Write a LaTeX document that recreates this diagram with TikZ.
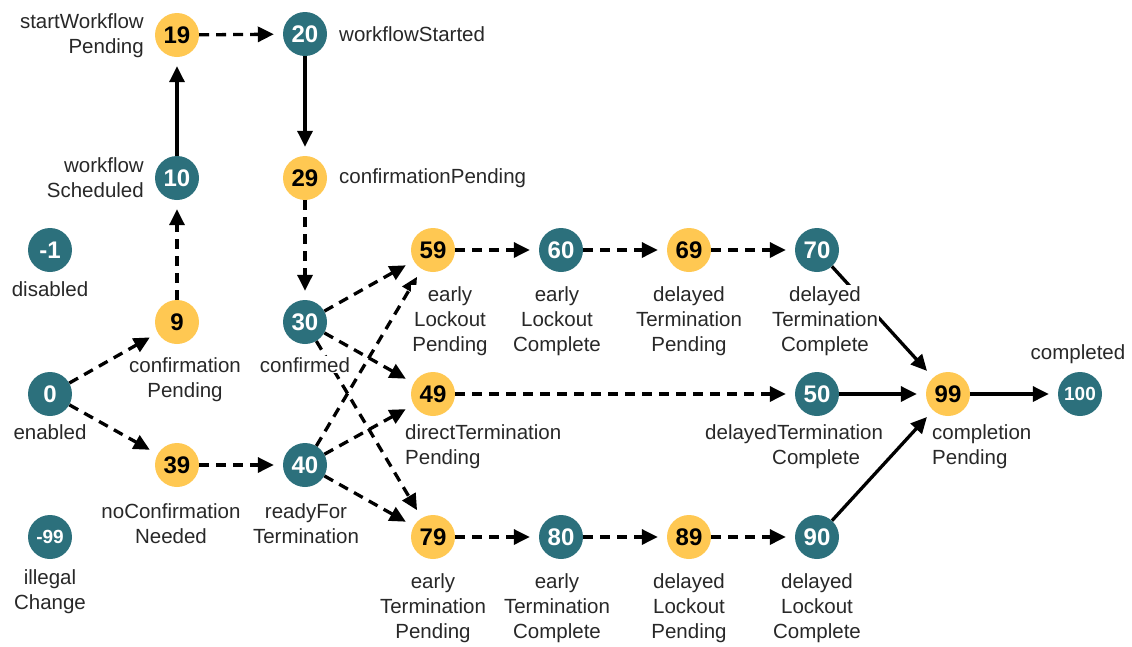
\documentclass[tikz,border=0pt]{standalone}
\usepackage{fontspec}
\setmainfont{Liberation Sans}
\usetikzlibrary{arrows.meta}
\definecolor{stteal}{RGB}{44,112,124}
\definecolor{styellow}{RGB}{255,200,82}
\definecolor{labelgray}{RGB}{40,40,40}

\begin{document}
\begin{tikzpicture}[x=1pt,y=-1pt,
  state/.style={circle, minimum size=44pt, inner sep=0pt,
    font=\fontsize{24}{24}\selectfont\bfseries},
  pend/.style={state, fill=styellow, text=black},
  done/.style={state, fill=stteal, text=white},
  small/.style={font=\fontsize{19}{19}\selectfont\bfseries},
  lbl/.style={fill=white, inner sep=1pt, text=labelgray, align=center,
    font=\fontsize{20.5}{25}\selectfont},
  flow/.style={line width=3.3pt, -{Triangle[length=16pt,width=15pt]}, shorten >=9pt},
  opt/.style={flow, dash pattern=on 10pt off 7pt},
]
\useasboundingbox (0,0) rectangle (1132,646);

% states
\node[pend] (s19) at (177,35) {19};
\node[done] (s20) at (305,34) {20};
\node[done] (s10) at (177,178) {10};
\node[pend] (s29) at (305,178) {29};
\node[done] (sm1) at (50,250) {-1};
\node[pend] (s9) at (177,322) {9};
\node[done] (s30) at (305,322) {30};
\node[pend] (s59) at (433,250) {59};
\node[done] (s60) at (561,250) {60};
\node[pend] (s69) at (689,250) {69};
\node[done] (s70) at (817,250) {70};
\node[done] (s0) at (50,394) {0};
\node[pend] (s49) at (433,394) {49};
\node[done] (s50) at (817,394) {50};
\node[pend] (s99) at (948,394) {99};
\node[done,small] (s100) at (1080,394) {100};
\node[pend] (s39) at (177,465) {39};
\node[done] (s40) at (305,465) {40};
\node[done,small] (sm99) at (50,537) {-99};
\node[pend] (s79) at (433,537) {79};
\node[done] (s80) at (561,537) {80};
\node[pend] (s89) at (689,537) {89};
\node[done] (s90) at (817,537) {90};

% transitions
\draw[flow] (s10) -- (s19);
\draw[opt] (s9) -- (s10);
\draw[opt] (s19) -- (s20);
\draw[flow] (s20) -- (s29);
\draw[opt] (s29) -- (s30);
\draw[opt] (s0) -- (s9);
\draw[opt] (s0) -- (s39);
\draw[opt] (s39) -- (s40);
\draw[opt] (s30) -- (s59);
\draw[opt] (s30) -- (s49);
\draw[opt] (s30) -- (s79);
\draw[opt] (s40) -- (s59);
\draw[opt] (s40) -- (s49);
\draw[opt] (s40) -- (s79);
\draw[opt] (s59) -- (s60);
\draw[opt] (s60) -- (s69);
\draw[opt] (s69) -- (s70);
\draw[opt] (s79) -- (s80);
\draw[opt] (s80) -- (s89);
\draw[opt] (s89) -- (s90);
\draw[opt] (s49) -- (s50);
\draw[flow] (s70) -- (s99);
\draw[flow] (s50) -- (s99);
\draw[flow] (s90) -- (s99);
\draw[flow] (s99) -- (s100);

% state names
\node[lbl, anchor=north east, align=right] (l19) at (145,12) {startWorkflow\\Pending};
\node[lbl, anchor=west] (l20) at (338,34) {workflowStarted};
\node[lbl, anchor=north east, align=right] (l10) at (145,156) {workflow\\Scheduled};
\node[lbl, anchor=west] (l29) at (338,178) {confirmationPending};
\node[lbl, anchor=north] (lm1) at (50,280) {disabled};
\node[lbl, anchor=north] (l9) at (185,356) {confirmation\\Pending};
\node[lbl, anchor=north] (l30) at (305,356) {confirmed};
\node[lbl, anchor=north] (l0) at (50,423) {enabled};
\node[lbl, anchor=north] (l39) at (171,502) {noConfirmation\\Needed};
\node[lbl, anchor=north] (l40) at (306,502) {readyFor\\Termination};
\node[lbl, anchor=north] (lm99) at (50,568) {illegal\\Change};
\node[lbl, anchor=north] (l59) at (450,285) {early\\Lockout\\Pending};
\node[lbl, anchor=north] (l60) at (557,285) {early\\Lockout\\Complete};
\node[lbl, anchor=north] (l69) at (689,285) {delayed\\Termination\\Pending};
\node[lbl, anchor=north] (l70) at (825,285) {delayed\\Termination\\Complete};
\node[lbl, anchor=north west, align=left] (l49) at (404,423) {directTermination\\Pending};
\node[lbl, fill=none, anchor=north west, align=left] (l50) at (704,423) {delayedTermination\\\hspace*{67pt}Complete};
\node[lbl, anchor=north west, align=left] (l99) at (931,423) {completion\\Pending};
\node[lbl, anchor=north] (l100) at (1078,343) {completed};
\node[lbl, anchor=north] (l79) at (433,572) {early\\Termination\\Pending};
\node[lbl, anchor=north] (l80) at (557,572) {early\\Termination\\Complete};
\node[lbl, anchor=north] (l89) at (689,572) {delayed\\Lockout\\Pending};
\node[lbl, anchor=north] (l90) at (817,572) {delayed\\Lockout\\Complete};
\end{tikzpicture}
\end{document}
